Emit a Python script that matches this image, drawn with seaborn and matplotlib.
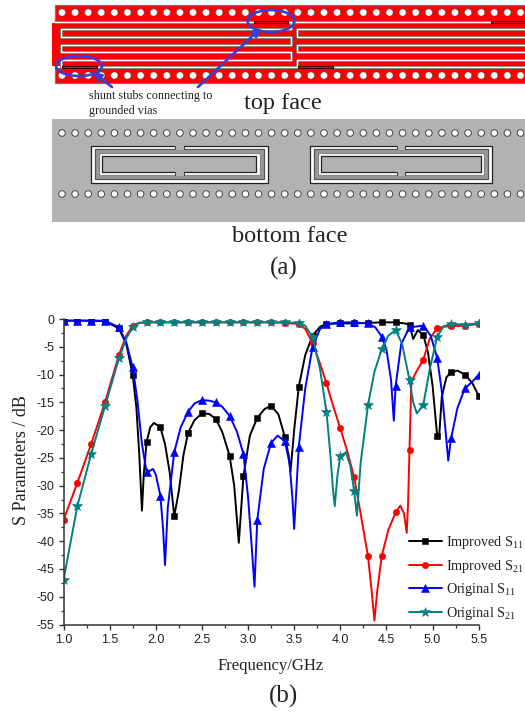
import numpy as np
import matplotlib
matplotlib.use("Agg")
import matplotlib.pyplot as plt
from matplotlib.patches import Rectangle, Ellipse, Circle
from matplotlib.ticker import MultipleLocator
import seaborn as sns

sns.set_theme(style="white")
plt.rcParams["font.family"] = ["Liberation Sans", "DejaVu Sans"]
plt.rcParams["mathtext.fontset"] = "custom"
plt.rcParams["mathtext.rm"] = "Liberation Serif"
plt.rcParams["mathtext.default"] = "rm"

SERIF = ["Liberation Serif", "DejaVu Serif"]

# ---------- data ----------
imp_s11_f = [1.0,1.15,1.3,1.45,1.6,1.68,1.75,1.79,1.82,1.85,1.87,1.9,1.94,1.98,2.05,2.1,2.15,2.2,2.25,2.3,2.35,2.42,2.5,2.58,2.65,2.72,2.8,2.85,2.9,2.95,3.02,3.1,3.18,3.25,3.33,3.4,3.44,3.46,3.5,3.55,3.62,3.7,3.78,3.85,4.0,4.15,4.3,4.45,4.6,4.7,4.75,4.79,4.84,4.9,4.95,5.0,5.05,5.07,5.1,5.15,5.2,5.27,5.35,5.43,5.5]
imp_s11_v = [-0.3,-0.3,-0.3,-0.4,-1.7,-4.5,-10,-16,-24,-34.5,-28,-22.2,-19.5,-18.7,-19.5,-22.5,-27.5,-35.5,-31,-24.5,-20.5,-18.2,-17,-17.1,-18,-20.3,-24.6,-30,-40.3,-28.3,-21,-17.8,-16.2,-15.6,-17.2,-21.3,-24.5,-27.5,-20,-12.2,-6.5,-3,-1.4,-0.9,-0.8,-0.8,-0.7,-0.6,-0.6,-0.8,-1.1,-3.6,-2,-2.9,-6,-12,-21,-21.5,-14,-10.5,-9.6,-9.3,-10,-11.5,-13.8]

imp_s21_f = [1.0,1.15,1.3,1.45,1.6,1.68,1.75,1.82,1.9,2.05,2.2,2.35,2.5,2.65,2.8,2.95,3.1,3.25,3.4,3.55,3.62,3.7,3.78,3.85,3.92,4.0,4.07,4.15,4.22,4.3,4.34,4.37,4.4,4.45,4.52,4.6,4.65,4.69,4.72,4.735,4.75,4.77,4.82,4.9,4.97,5.05,5.12,5.2,5.35,5.5]
imp_s21_v = [-36.2,-29.5,-22.5,-15,-6.5,-3,-1.2,-0.7,-0.6,-0.6,-0.6,-0.6,-0.6,-0.6,-0.6,-0.6,-0.6,-0.6,-0.7,-0.9,-1.8,-4.4,-8,-11.6,-15.5,-19.7,-23.5,-28.5,-35,-42.7,-49,-54.3,-49,-42.6,-38,-34.8,-33.6,-35,-38.5,-33,-23.5,-11.3,-9.6,-7.3,-3.5,-1.7,-1.4,-1.3,-1.2,-0.9]

org_s11_f = [1.0,1.15,1.3,1.45,1.6,1.68,1.75,1.8,1.85,1.9,1.94,1.97,2.0,2.05,2.08,2.1,2.13,2.2,2.27,2.35,2.42,2.5,2.58,2.65,2.72,2.8,2.88,2.95,3.0,3.04,3.07,3.1,3.17,3.25,3.32,3.4,3.45,3.48,3.5,3.55,3.62,3.7,3.78,3.85,4.0,4.15,4.3,4.38,4.45,4.5,4.55,4.58,4.6,4.66,4.75,4.9,4.98,5.05,5.1,5.14,5.17,5.2,5.27,5.35,5.43,5.5]
org_s11_v = [-0.3,-0.3,-0.3,-0.3,-1.5,-4.2,-8.7,-14.5,-22.5,-27.5,-27.3,-27,-28,-31.8,-38,-44.3,-34,-24,-19.5,-16.7,-15.2,-14.6,-14.7,-15,-15.8,-17.4,-20.3,-24.3,-32,-41,-48.2,-36.2,-27,-22.3,-21,-22,-26,-32,-37.8,-23,-12.5,-5,-1.8,-0.9,-0.6,-0.6,-0.8,-1.5,-3.2,-5.5,-11,-18.3,-12,-4.5,-1.5,-1.2,-3,-7,-13,-20,-25.5,-21.5,-16,-12.5,-11.3,-10]

org_s21_f = [1.0,1.15,1.3,1.45,1.6,1.68,1.75,1.82,1.9,2.05,2.2,2.35,2.5,2.65,2.8,2.95,3.1,3.25,3.4,3.55,3.62,3.7,3.78,3.85,3.89,3.92,3.94,3.97,4.0,4.06,4.11,4.15,4.18,4.22,4.3,4.37,4.45,4.52,4.6,4.67,4.75,4.79,4.83,4.9,4.97,5.05,5.12,5.2,5.35,5.5]
org_s21_v = [-47,-33.7,-24.3,-15.7,-7.1,-3.5,-1.5,-0.7,-0.6,-0.6,-0.6,-0.6,-0.6,-0.6,-0.6,-0.6,-0.6,-0.6,-0.6,-0.7,-1.2,-3.3,-9,-16.7,-24,-30.5,-33.7,-28,-24.7,-24,-26.5,-31,-35.4,-26,-15.5,-9.5,-5.4,-3,-2,-4.5,-11,-15,-17,-15.4,-9,-3.2,-1.3,-0.9,-1,-0.8]

marker_freqs = [round(1 + 0.15 * k, 2) for k in range(31)]
yticks = [0, -5, -10, -15, -20, -25, -30, -35, -40, -45, -50, -55]
xticks = [1.0, 1.5, 2.0, 2.5, 3.0, 3.5, 4.0, 4.5, 5.0, 5.5]

W, H = 525, 712
fig = plt.figure(figsize=(W / 100, H / 100), dpi=100, facecolor="white")

# ---------- chart (b) ----------
L, R, T, B = 63.5, 478.7, 319.0, 624.5
ax = fig.add_axes([L / W, 1 - B / H, (R - L) / W, (B - T) / H], facecolor="none", zorder=3)

series = [
    (imp_s11_f, imp_s11_v, "black", "s", 4.6, "Improved S$_{11}$"),
    (imp_s21_f, imp_s21_v, "#ff0000", "o", 4.6, "Improved S$_{21}$"),
    (org_s11_f, org_s11_v, "#0000ff", "^", 6.4, "Original S$_{11}$"),
    (org_s21_f, org_s21_v, "#008080", "*", 7.4, "Original S$_{21}$"),
]
for f, v, c, m, ms, lab in series:
    idx = [i for i, x in enumerate(f) if round(x, 2) in marker_freqs]
    sns.lineplot(x=f, y=v, ax=ax, color=c, marker=m, markersize=ms, markevery=idx,
                 markeredgecolor=c, markeredgewidth=0.4, linewidth=1.4, label=lab,
                 estimator=None, clip_on=True, solid_joinstyle="round")

ax.set_xlim(1.0, 5.5)
ax.set_ylim(-55, 0)
ax.set_xticks(xticks)
ax.set_xticklabels([f"{t:.1f}" for t in xticks])
ax.set_yticks(yticks)
ax.set_yticklabels([str(t) for t in yticks])
ax.xaxis.set_minor_locator(MultipleLocator(0.25))
ax.yaxis.set_minor_locator(MultipleLocator(2.5))
for s in ("top", "right"):
    ax.spines[s].set_visible(False)
for s in ("left", "bottom"):
    ax.spines[s].set_linewidth(1.1)
    ax.spines[s].set_color("#333333")
ax.tick_params(axis="both", which="major", direction="out", length=3.8, width=1.0,
               color="#333333", labelsize=9, labelcolor="#222222", pad=3,
               bottom=True, left=True)
ax.tick_params(axis="both", which="minor", direction="out", length=2.4, width=0.9,
               color="#333333", bottom=True, left=True)
ax.set_xlabel("Frequency/GHz", family=SERIF, fontsize=12, color="#222222", labelpad=9)
ax.set_ylabel("S Parameters / dB", family=SERIF, fontsize=13, color="#222222")
ax.yaxis.set_label_coords((30 - L) / (R - L), (B - 460) / (B - T))
leg = ax.legend(loc="upper left", bbox_to_anchor=(409 / W, 1 - 534 / H),
                bbox_transform=fig.transFigure, frameon=False, borderpad=0, borderaxespad=0,
                handlelength=2.3, handletextpad=0.3, labelspacing=0.46,
                prop={"family": SERIF, "size": 10.2})
for t in leg.get_texts():
    t.set_color("#222222")

# ---------- diagram (a), drawn in picture pixels ----------
d = fig.add_axes([0, 0, 1, 1], zorder=1)
d.set_xlim(0, W)
d.set_ylim(H, 0)
d.axis("off")


def via_row(y, r, edge, lw):
    for x in np.arange(62, W + 6, 13.1):
        d.add_patch(Circle((x, y), r, fc="white", ec=edge, lw=lw, zorder=4))


def slot(xs, ys):
    d.plot(xs, ys, color="#707070", lw=2.0, solid_joinstyle="miter", solid_capstyle="butt", zorder=3)
    d.plot(xs, ys, color="white", lw=0.95, solid_joinstyle="miter", solid_capstyle="butt", zorder=3.1)


def stub(x0, x1, y):
    d.add_patch(Rectangle((x0, y - 1.2), x1 - x0, 2.4, fc="#ff0000", ec="#500000", lw=0.8, zorder=3.2))


RED = "#ff0000"
d.add_patch(Rectangle((54.5, 5), W - 54.5 + 3, 16.3, fc=RED, ec="#777777", lw=0.9, zorder=1))
d.add_patch(Rectangle((52, 23), W - 52 + 3, 42.7, fc=RED, ec="none", zorder=1))
d.add_patch(Rectangle((54.5, 67.8), W - 54.5 + 3, 15.2, fc=RED, ec="#777777", lw=0.9, zorder=1))
via_row(12.5, 3.6, "#555555", 0.4)
via_row(75.5, 3.6, "#555555", 0.4)

# left resonator serpentine
slot([291, 291, 61, 61, 291, 291, 61, 61, 291, 291, 61, 61, 97],
     [22, 29, 29, 37, 37, 44.5, 44.5, 52, 52, 59.5, 59.5, 67, 67])
slot([54, 254], [22, 22])
slot([97, 297, 297, W], [67, 67, 59.5, 59.5])
# right resonator
slot([288, 491], [22, 22])
slot([W, 297, 297, W], [29, 29, 37, 37])
slot([W, 297, 297, W], [44.5, 44.5, 52, 52])
slot([333, W], [67, 67])
stub(254, 288, 22)
stub(491, W + 2, 22)
stub(62, 97, 67)
stub(298, 333, 67)

# hand drawn blue annotation
BLUE = "#3c3cd6"
d.add_patch(Ellipse((271, 21), 47, 22, fc="none", ec=BLUE, lw=1.9, zorder=6))
d.add_patch(Ellipse((79, 66), 46, 20, fc="none", ec=BLUE, lw=1.9, zorder=6))
d.annotate("", xy=(261, 28), xytext=(198, 87),
           arrowprops=dict(arrowstyle="-|>", color=BLUE, lw=1.9, shrinkA=0, shrinkB=0), zorder=6)
d.annotate("", xy=(93, 72), xytext=(112, 87),
           arrowprops=dict(arrowstyle="-|>", color=BLUE, lw=1.9, shrinkA=0, shrinkB=0), zorder=6)

d.text(89, 96, "shunt stubs connecting to", family=SERIF, fontsize=8.7, color="#222222", va="center")
d.text(89, 111, "grounded vias", family=SERIF, fontsize=8.7, color="#222222", va="center")
d.text(283, 104, "top face", family=SERIF, fontsize=17.5, color="#222222", ha="center", va="center")

# bottom face
GREY = "#b2b2b2"
d.add_patch(Rectangle((52, 119), W - 52 + 3, 103, fc=GREY, ec="none", zorder=1))
via_row(133, 3.3, "#444444", 0.7)
via_row(194, 3.3, "#444444", 0.7)


def ring(x0, x1, gx0, gx1):
    def box(a, b, c, e, fc, ec, lw=0.9, z=2):
        d.add_patch(Rectangle((a, c), b - a, e - c, fc=fc, ec=ec, lw=lw, zorder=z))
    box(x0, x1, 145.7, 182.7, "white", "#222222", z=2)
    box(x0 + 3.6, x1 - 3.6, 149, 179, "#999999", "#555555", z=2.1)
    box(x0 + 7.5, x1 - 7.5, 153.3, 175, "white", "#888888", z=2.2)
    box(x0 + 11.2, x1 - 11.2, 156, 171.7, GREY, "#222222", z=2.3)
    box(gx0, gx1, 144.5, 150, GREY, "none", lw=0, z=2.4)
    box(gx0, gx1, 170.5, 176, GREY, "none", lw=0, z=2.4)
    for yy0, yy1 in ((145.7, 149), (171.7, 175)):
        d.plot([gx0, gx0], [yy0, yy1], color="#444444", lw=0.8, zorder=2.5)
        d.plot([gx1, gx1], [yy0, yy1], color="#444444", lw=0.8, zorder=2.5)


ring(91, 267.5, 175, 184.3)
ring(310, 491.7, 396.7, 405)

d.text(290, 237, "bottom face", family=SERIF, fontsize=17.5, color="#222222", ha="center", va="center")
d.text(284, 268, "(a)", family=SERIF, fontsize=18, color="#222222", ha="center", va="center")
d.text(283, 696, "(b)", family=SERIF, fontsize=18, color="#222222", ha="center", va="center")

fig.savefig("out.png", dpi=100, facecolor="white")
